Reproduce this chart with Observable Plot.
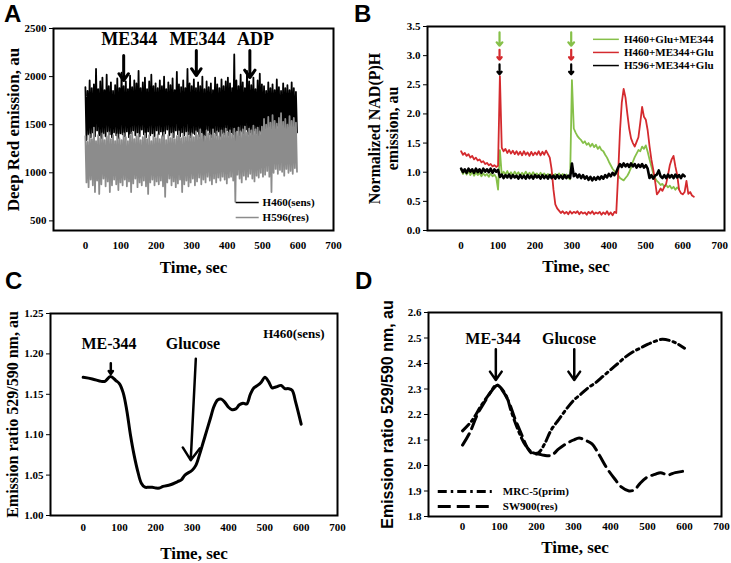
<!DOCTYPE html>
<html><head><meta charset="utf-8">
<script src="https://cdn.jsdelivr.net/npm/d3@7"></script>
<script src="https://cdn.jsdelivr.net/npm/@observablehq/plot@0.6"></script>
<style>
body{margin:0;background:#fff;}
#fig{position:relative;width:731px;height:563px;overflow:hidden;background:#fff;}
.panel{position:absolute;}
.letter{position:absolute;font-family:"Liberation Sans",Arial,sans-serif;font-weight:bold;font-size:24px;line-height:1;}
</style></head><body>
<div id="fig"></div>
<script>
// ---------- shared ticks ----------
const xTicks = [0,100,200,300,400,500,600,700];

// ---------- Panel A: Deep Red emission (noisy traces, peaks / troughs every 3 s) ----------
const yTicksA = [500,1000,1500,2000,2500];
const h460Hi = [1890,1850,1960,1880,1920,2080,1870,1950,1990,1860,2020,1900,1940,1850,1910,1980,1880,
 2040,1900,1950,1870,2010,1890,1960,1930,2060,1880,1940,1990,1870,1950,2020,1900,1930,
 1880,1960,1900,2000,1870,1940,1910,1980,1860,2050,1920,1890,1960,1880,2080,1930,1900,
 1970,1880,1940,1900,2000,1870,1950,1890,1930,1860,1990,1920,1880,1970,1900,1950,1990,
 1930,1880,2230,1960,1900,2020,1940,1880,2060,1950,1910,1990,1870,1960,2030,1920,
 1900,1850,1940,1880,1920,1860,1970,1890,1850,1930,1880,1910,1860,1940,1880,1840];
const h460Lo = [1340,1400,1370,1420,1380,1440,1390,1360,1410,1380,1430,1400,1370,1420,1390,1360,1410,
 1400,1380,1430,1370,1410,1440,1390,1420,1380,1450,1400,1370,1430,1390,1410,1380,1440,
 1400,1430,1380,1410,1450,1390,1420,1370,1440,1400,1380,1420,1390,1430,1400,1370,1410,
 1400,1430,1380,1420,1250,1390,1440,1400,1370,1420,1390,1430,1380,1410,1400,1440,1390,
 1420,1400,1270,1440,1390,1430,1410,1450,1400,1420,1390,1440,1410,1380,1430,1400,
 1460,1420,1480,1430,1470,1440,1490,1450,1420,1470,1440,1480,1430,1460,1450,1420];
const h596Hi = [1380,1320,1400,1350,1470,1330,1390,1360,1410,1340,1380,1420,1350,1390,1330,1400,1360,
 1340,1410,1370,1330,1390,1420,1350,1380,1400,1340,1370,1410,1350,1390,1330,1380,1360,
 1400,1350,1380,1420,1340,1390,1360,1410,1350,1380,1430,1360,1400,1370,1420,1380,1410,
 1370,1430,1390,1450,1400,1380,1440,1410,1390,1450,1400,1430,1380,1440,1410,1460,1420,
 1440,1400,1460,1420,1470,1430,1450,1480,1420,1460,1440,1490,1450,1470,1430,1480,
 1560,1500,1580,1520,1600,1540,1510,1570,1620,1530,1560,1500,1590,1540,1570,1520];
const h596Lo = [900,850,930,870,800,920,780,880,940,860,910,800,870,930,880,820,900,
 870,930,860,910,800,890,940,850,900,870,920,860,780,900,930,870,910,
 880,920,860,750,900,940,870,910,850,890,930,800,880,920,860,900,940,
 870,910,950,880,930,900,960,920,880,940,900,950,920,960,930,890,950,
 960,920,700,980,940,900,970,930,960,990,940,910,970,950,1000,960,
 980,1020,960,800,1000,1040,990,1030,1010,970,1040,1000,1020,990,1050,1010];
const annALabels = ["ME344","ME344","ADP"];
const annALabelT = [124,316,480];
const annAArrowT = [108,313,464];
const annAArrowTop = [2219,2271,2271];
const annAArrowTip = [1959,2011,1990];
const legendANames = ["H460(sens)","H596(res)"];
const legendAColors = ["#000000","#8c8c8c"];

// ---------- Panel B: normalized NAD(P)H (sampled every 5 s) ----------
const yTicksB = [0,0.5,1,1.5,2,2.5,3,3.5];
const stepB = 5;
const greenB = [1.05,0.97,1.03,0.96,1.02,0.95,1.01,0.94,1.00,0.95,0.99,0.93,0.98,0.94,0.97,0.92,0.98,0.93,0.96,0.91,0.70,
 1.38,
 0.95,1.01,0.96,1.02,0.95,1.00,0.94,1.01,0.96,1.00,0.94,0.99,0.95,1.01,0.95,0.99,0.94,1.00,0.95,0.98,
 0.93,0.99,0.94,0.98,0.93,0.97,0.92,0.98,0.93,0.97,0.92,0.98,0.93,0.97,0.91,0.96,0.90,0.88,
 2.58,
 1.75,1.68,1.62,1.58,1.55,1.50,1.53,1.47,1.50,1.44,1.49,1.43,1.47,1.40,1.44,1.38,1.36,1.30,1.25,1.18,1.12,1.06,1.02,0.98,
 0.95,0.90,0.88,0.86,0.90,0.94,1.00,1.08,1.18,1.26,1.32,1.38,1.36,1.44,1.40,1.46,1.35,1.22,1.10,0.98,
 0.90,0.85,0.82,0.78,0.80,0.75,0.78,0.74,0.77,0.72,0.75,0.70,0.74,0.71];
const redB = [1.36,1.30,1.33,1.28,1.31,1.25,1.28,1.22,1.25,1.20,1.22,1.17,1.19,1.14,1.16,1.12,1.14,1.10,1.12,1.09,1.11,
 2.65,
 1.42,1.36,1.40,1.33,1.38,1.32,1.37,1.31,1.36,1.30,1.35,1.29,1.36,1.30,1.34,1.28,1.35,1.29,1.34,1.30,1.36,1.29,1.35,1.30,1.37,1.31,
 1.25,1.05,0.70,0.45,0.38,
 0.34,0.30,0.33,0.29,0.32,0.28,0.33,0.29,0.32,0.30,0.33,0.28,0.32,0.29,0.31,0.27,0.32,0.29,0.33,0.28,
 0.31,0.29,0.32,0.27,0.31,0.28,0.33,0.27,0.31,0.26,0.32,0.30,
 0.95,1.70,2.20,2.43,2.28,2.00,1.75,1.58,1.50,1.44,1.52,1.60,1.85,2.12,1.95,1.90,1.72,1.45,1.22,1.05,
 0.85,0.62,0.66,0.72,0.68,0.75,0.80,0.95,1.12,1.22,1.28,1.10,0.95,0.70,0.64,0.62,0.66,0.85,0.63,0.66,0.60,0.58];
const blackB = [1.06,1.00,1.05,0.99,1.06,1.01,1.05,0.99,1.06,1.00,1.05,0.99,1.06,1.01,1.05,1.00,1.06,0.99,1.05,1.01,1.04,
 0.92,0.96,0.90,0.95,0.91,0.96,0.90,0.95,0.91,0.94,0.89,0.95,0.90,0.94,0.89,0.95,0.90,0.94,0.89,0.95,
 0.91,0.94,0.89,0.95,0.90,0.94,0.89,0.95,0.90,0.94,0.89,0.95,0.90,0.94,0.89,0.95,0.90,0.94,0.90,
 1.15,
 0.93,0.97,0.91,0.96,0.90,0.95,0.89,0.93,0.87,0.92,0.86,0.91,0.87,0.92,0.88,0.93,0.89,0.95,0.91,0.97,0.93,0.99,0.95,1.00,
 1.08,1.14,1.09,1.15,1.10,1.14,1.09,1.15,1.10,1.14,1.08,1.13,1.09,1.14,1.08,1.12,1.06,
 0.90,0.95,0.89,0.94,0.96,1.03,0.93,0.90,0.95,0.90,0.96,0.91,0.95,0.90,0.96,0.91,0.95,0.90,0.96,0.93];
const seriesBNames = ["H460+Glu+ME344","H460+ME344+Glu","H596+ME344+Glu"];
const seriesBColors = ["#86c049","#d42a2e","#000000"];
const annBArrowT = [104,298];
const annBArrowTop = [3.40,3.10,2.85];
const annBArrowTip = [3.17,2.93,2.68];

// ---------- Panel C ----------
const yTicksC = [1.00,1.05,1.10,1.15,1.20,1.25];
const timeC = [0,25,50,60,75,90,100,110,120,130,140,150,160,170,180,190,200,210,220,240,260,270,280,300,310,320,330,340,350,360,370,380,390,400,410,420,430,440,450,460,470,480,490,500,510,520,530,545,555,565,575,585,600];
const ratioC = [1.171,1.169,1.166,1.166,1.172,1.167,1.163,1.152,1.13,1.10,1.075,1.055,1.04,1.035,1.035,1.035,1.034,1.034,1.036,1.038,1.042,1.044,1.05,1.056,1.062,1.075,1.09,1.105,1.12,1.135,1.143,1.144,1.14,1.134,1.131,1.132,1.137,1.139,1.138,1.15,1.158,1.161,1.165,1.171,1.166,1.158,1.159,1.161,1.157,1.157,1.155,1.14,1.113];
const annCLabels = ["ME-344","Glucose"];
const annCLabelT = [71,302];
const annCArrowT1 = [76,310];
const annCArrowT2 = [76,296];
const annCArrowY1 = [1.1885,1.194];
const annCArrowY2 = [1.175,1.0685];

// ---------- Panel D ----------
const yTicksD = [1.8,1.9,2.0,2.1,2.2,2.3,2.4,2.5,2.6];
const timeMRC = [0,25,50,75,90,100,120,130,150,170,190,205,220,240,260,280,300,320,340,360,380,400,420,440,460,480,500,520,540,560,580,600];
const ratioMRC = [2.136,2.175,2.234,2.286,2.315,2.31,2.267,2.22,2.14,2.08,2.05,2.05,2.08,2.14,2.18,2.22,2.255,2.28,2.305,2.325,2.35,2.375,2.40,2.425,2.445,2.46,2.475,2.487,2.495,2.49,2.478,2.46];
const timeSW = [0,20,40,60,80,95,110,125,140,160,175,190,205,220,240,260,280,300,315,330,350,370,390,410,430,450,465,480,500,520,535,555,575,600];
const ratioSW = [2.08,2.13,2.20,2.25,2.295,2.315,2.29,2.25,2.19,2.12,2.07,2.045,2.045,2.04,2.04,2.065,2.085,2.10,2.108,2.10,2.085,2.04,1.99,1.95,1.915,1.90,1.905,1.93,1.955,1.965,1.972,1.963,1.972,1.978];
const legendDNames = ["MRC-5(prim)","SW900(res)"];
const legendDDash = ["9,4,2.5,4","13,6"];
const annDLabels = ["ME-344","Glucose"];
const annDLabelT = [82,288];
const annDArrowT = [90,302];

// ---------- build ----------
const fig = document.getElementById("fig");
const baseStyle = {fontFamily:'"Liberation Serif","Times New Roman",serif', fontWeight:"bold", fontSize:"11px", background:"transparent", overflow:"visible", color:"black"};
function place(svg, left, top){
  const d = document.createElement("div"); d.className = "panel";
  d.style.left = left+"px"; d.style.top = top+"px"; d.appendChild(svg); fig.appendChild(d);
}
function letter(t, left, top){
  const d = document.createElement("div"); d.className = "letter"; d.textContent = t;
  d.style.left = left+"px"; d.style.top = top+"px"; fig.appendChild(d);
}
function zig(hi, lo){
  const out = [];
  hi.forEach((h,i) => { out.push({t: 6*i, v: h}); out.push({t: 6*i+3, v: lo[i]}); });
  return out;
}
const serif = '"Liberation Serif","Times New Roman",serif';
const sans = '"Liberation Sans",Arial,sans-serif';
function yLabel(txt, dx, size, family){
  return Plot.text([txt], {text: d => d, frameAnchor: "left", textAnchor: "middle", lineAnchor: "middle", rotate: -90, dx, fontSize: size, fontFamily: family || serif, lineHeight: 1.1});
}
function xLabel(dy){
  return Plot.text(["Time, sec"], {text: d => d, frameAnchor: "bottom", textAnchor: "middle", lineAnchor: "middle", dy, fontSize: 17});
}

// Panel A
{
  const ann = annALabels.map((l,i)=>({l, lt: annALabelT[i], at: annAArrowT[i], y1: annAArrowTop[i], y2: annAArrowTip[i]}));
  const leg = legendANames.map((n,i)=>({n, c: legendAColors[i], i}));
  const svg = Plot.plot({
    width: 365, height: 280, marginLeft: 53, marginRight: 32, marginTop: 28, marginBottom: 50,
    style: baseStyle,
    x: {domain: [-90, 700]}, y: {domain: [400, 2500]},
    marks: [
      Plot.line(zig(h460Hi, h460Lo), {x: "t", y: "v", stroke: "black", strokeWidth: 1.8}),
      Plot.line(zig(h596Hi, h596Lo), {x: "t", y: "v", stroke: "#8c8c8c", strokeWidth: 1.8}),
      Plot.arrow(ann, {x1: "at", x2: "at", y1: "y1", y2: "y2", stroke: "black", strokeWidth: 3, headLength: 10, headAngle: 70}),
      Plot.text(ann, {x: "lt", y: 2386, text: "l", fontSize: 18, fontFamily: serif}),
      Plot.link(leg, {x1: 424, x2: 489, y1: d => 691 - d.i*156, y2: d => 691 - d.i*156, stroke: "c", strokeWidth: 1.5}),
      Plot.text(leg, {x: 500, y: d => 691 - d.i*156, text: "n", textAnchor: "start", fontSize: 11}),
      Plot.axisY({ticks: yTicksA, tickSize: 4, tickPadding: 3, label: null, tickFormat: d3.format("d")}),
      Plot.axisX({ticks: xTicks, tickSize: 0, tickPadding: 11, label: null}),
      Plot.frame({stroke: "black", strokeWidth: 2}),
      yLabel("Deep Red emission, au", -40, 17),
      xLabel(37)
    ]
  });
  place(svg, 0, 0);
}

// Panel B
{
  const mk = arr => arr.map((v,i)=>({t: i*stepB, v}));
  const arrows = [];
  annBArrowT.forEach(t => seriesBColors.forEach((c,k) => arrows.push({t, c, y1: annBArrowTop[k], y2: annBArrowTip[k]})));
  const leg = seriesBNames.map((n,i)=>({n, c: seriesBColors[i], i}));
  const svg = Plot.plot({
    width: 366, height: 280, marginLeft: 62, marginRight: 7, marginTop: 26, marginBottom: 50,
    style: baseStyle,
    x: {domain: [-91, 713]}, y: {domain: [0, 3.5]},
    marks: [
      Plot.line(mk(greenB), {x: "t", y: "v", stroke: seriesBColors[0], strokeWidth: 1.8}),
      Plot.line(mk(redB), {x: "t", y: "v", stroke: seriesBColors[1], strokeWidth: 1.8}),
      Plot.line(mk(blackB), {x: "t", y: "v", stroke: seriesBColors[2], strokeWidth: 2.6}),
      Plot.arrow(arrows, {x1: "t", x2: "t", y1: "y1", y2: "y2", stroke: "c", strokeWidth: 2.2, headLength: 8, headAngle: 80}),
      Plot.link(leg, {x1: 357, x2: 427, y1: d => 3.28 - d.i*0.225, y2: d => 3.28 - d.i*0.225, stroke: "c", strokeWidth: 1.5}),
      Plot.text(leg, {x: 441, y: d => 3.28 - d.i*0.225, text: "n", textAnchor: "start", fontSize: 11}),
      Plot.axisY({ticks: yTicksB, tickSize: 4, tickPadding: 3, label: null, tickFormat: d3.format(".1f")}),
      Plot.axisX({ticks: xTicks, tickSize: 0, tickPadding: 11, label: null}),
      Plot.frame({stroke: "black", strokeWidth: 2}),
      yLabel("Normalized NAD(P)H\nemission, au", -44, 16),
      xLabel(36)
    ]
  });
  place(svg, 365, 0);
}

// Panel C
{
  const data = timeC.map((t,i)=>({t, v: ratioC[i]}));
  const ann = annCLabels.map((l,i)=>({l, lt: annCLabelT[i], x1: annCArrowT1[i], x2: annCArrowT2[i], y1: annCArrowY1[i], y2: annCArrowY2[i]}));
  const svg = Plot.plot({
    width: 365, height: 283, marginLeft: 50, marginRight: 28, marginTop: 33, marginBottom: 48,
    style: baseStyle,
    x: {domain: [-90, 700]}, y: {domain: [1.0, 1.25]},
    marks: [
      Plot.line(data, {x: "t", y: "v", stroke: "black", strokeWidth: 3, curve: "catmull-rom"}),
      Plot.arrow(ann, {x1: "x1", x2: "x2", y1: "y1", y2: "y2", stroke: "black", strokeWidth: 2.5, headLength: 9, headAngle: 70}),
      Plot.text(ann, {x: "lt", y: 1.213, text: "l", fontSize: 16}),
      Plot.text(["H460(sens)"], {text: d => d, x: 580, y: 1.225, fontSize: 13}),
      Plot.axisY({ticks: yTicksC, tickSize: 4, tickPadding: 3, label: null, tickFormat: d3.format(".2f")}),
      Plot.axisX({ticks: xTicks, tickSize: 0, tickPadding: 8, label: null}),
      Plot.frame({stroke: "black", strokeWidth: 2}),
      yLabel("Emission ratio 529/590 nm, au", -38, 16),
      xLabel(38)
    ]
  });
  place(svg, 0, 280);
}

// Panel D
{
  const mrc = timeMRC.map((t,i)=>({t, v: ratioMRC[i]}));
  const sw = timeSW.map((t,i)=>({t, v: ratioSW[i]}));
  const ann = annDLabels.map((l,i)=>({l, lt: annDLabelT[i], at: annDArrowT[i]}));
  const leg = legendDNames.map((n,i)=>({n, dash: legendDDash[i], i}));
  const svg = Plot.plot({
    width: 366, height: 283, marginLeft: 63, marginRight: 10, marginTop: 32, marginBottom: 47,
    style: baseStyle,
    x: {domain: [-92, 700]}, y: {domain: [1.8, 2.6]},
    marks: [
      Plot.line(mrc, {x: "t", y: "v", stroke: "black", strokeWidth: 3, strokeDasharray: legendDDash[0], curve: "catmull-rom"}),
      Plot.line(sw, {x: "t", y: "v", stroke: "black", strokeWidth: 3, strokeDasharray: legendDDash[1], curve: "catmull-rom"}),
      Plot.arrow(ann, {x1: "at", x2: "at", y1: 2.456, y2: 2.335, stroke: "black", strokeWidth: 2.5, headLength: 10, headAngle: 70}),
      Plot.text(ann, {x: "lt", y: 2.498, text: "l", fontSize: 16}),
      ...leg.map(d => Plot.link([d], {x1: -67, x2: 79, y1: 1.898 - d.i*0.059, y2: 1.898 - d.i*0.059, stroke: "black", strokeWidth: 3, strokeDasharray: d.dash})),
      Plot.text(leg, {x: 109, y: d => 1.898 - d.i*0.059, text: "n", textAnchor: "start", fontSize: 11}),
      Plot.axisY({ticks: yTicksD, tickSize: 4, tickPadding: 3, label: null, tickFormat: d3.format(".1f")}),
      Plot.axisX({ticks: xTicks, tickSize: 0, tickPadding: 6, label: null}),
      Plot.frame({stroke: "black", strokeWidth: 2}),
      yLabel("Emission ratio 529/590 nm, au", -41, 16, sans),
      xLabel(31)
    ]
  });
  place(svg, 365, 280);
}

letter("A", 4, 2);
letter("B", 354, 2);
letter("C", 5, 269);
letter("D", 355, 269);
</script>
</body></html>
